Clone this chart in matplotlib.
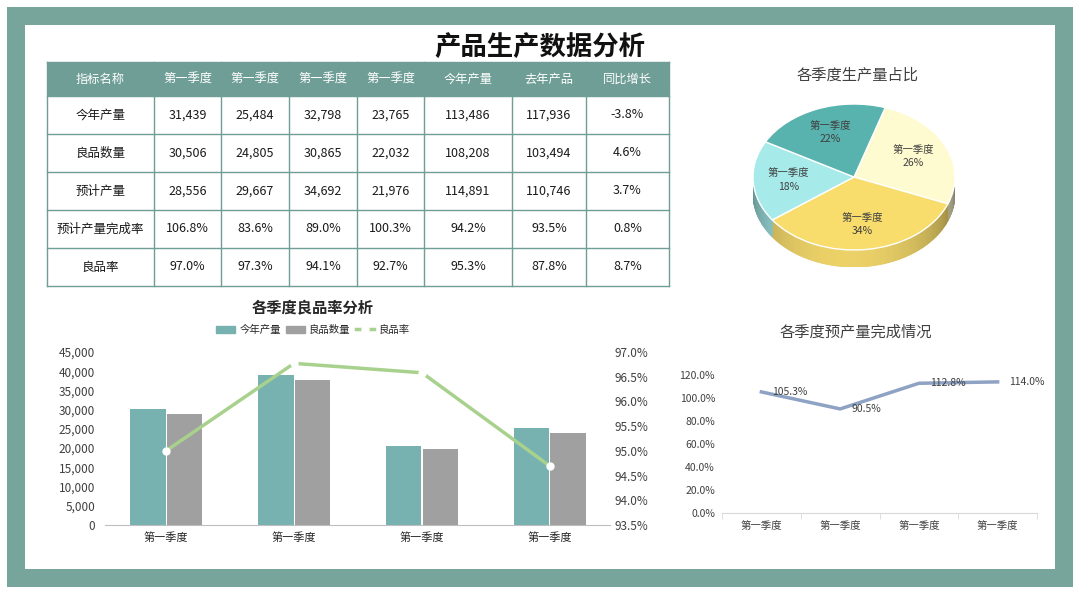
import matplotlib

matplotlib.use("Agg")
import matplotlib.pyplot as plt
import numpy as np
from matplotlib.colors import to_rgb
from matplotlib.lines import Line2D
from matplotlib.patches import Patch, Polygon, Rectangle, Wedge
from matplotlib.ticker import FuncFormatter, MultipleLocator

plt.rcParams["font.family"] = ["Noto Sans CJK SC", "DejaVu Sans"]

W, H = 1080, 594

# ---- data -----------------------------------------------------------------
main_title = "产品生产数据分析"
col_headers = ["指标名称", "第一季度", "第一季度", "第一季度", "第一季度",
               "今年产量", "去年产品", "同比增长"]
row_names = ["今年产量", "良品数量", "预计产量", "预计产量完成率", "良品率"]
output_this_year = [31439, 25484, 32798, 23765, 113486, 117936]
good_count = [30506, 24805, 30865, 22032, 108208, 103494]
planned_output = [28556, 29667, 34692, 21976, 114891, 110746]
plan_completion = [106.8, 83.6, 89.0, 100.3, 94.2, 93.5]
good_rate = [97.0, 97.3, 94.1, 92.7, 95.3, 87.8]
yoy_growth = [-3.8, 4.6, 3.7, 0.8, 8.7]

pie_title = "各季度生产量占比"
pie_names = ["第一季度", "第一季度", "第一季度", "第一季度"]
pie_share = [26, 34, 18, 22]

bar_title = "各季度良品率分析"
quarters = ["第一季度", "第一季度", "第一季度", "第一季度"]
bar_output = [30300, 38950, 20450, 25350]
bar_good = [28900, 37650, 19850, 23950]
bar_rate = [95.0, 96.77, 96.58, 94.69]
bar_legend = ["今年产量", "良品数量", "良品率"]

line_title = "各季度预产量完成情况"
completion = [105.3, 90.5, 112.8, 114.0]

# ---- colours --------------------------------------------------------------
FRAME = "#77a59c"
HEAD = "#6f9e97"
TEAL = "#77b2b1"
GRAY = "#a0a0a0"
GREEN = "#a9d18e"
STEEL = "#8ea2c4"
TXT = "#404040"
PIE_COLORS = ["#fffbd0", "#f8dc6c", "#a6eaea", "#58b2ae"]


def rect(x0, y0, x1, y1):
    """pixel box (top-left origin) -> figure fraction"""
    return [x0 / W, 1 - y1 / H, (x1 - x0) / W, (y1 - y0) / H]


fig = plt.figure(figsize=(W / 100, H / 100), dpi=100)
bg = fig.add_axes([0, 0, 1, 1])
bg.set_xlim(0, W)
bg.set_ylim(H, 0)
bg.axis("off")
bg.add_patch(Rectangle((7, 7), 1066, 580, color=FRAME, lw=0))
bg.add_patch(Rectangle((25, 25), 1030, 544, color="white", lw=0))
bg.text(540, 47, main_title, ha="center", va="center", fontsize=19,
        fontweight="bold", color="#111111")

# ---- table ----------------------------------------------------------------
col_x = [47, 154, 221, 289, 357, 424, 512, 586, 669]
row_y = [62, 96, 134, 172, 210, 248, 286]


def fmt_row(i):
    if i < 3:
        vals = [output_this_year, good_count, planned_output][i]
        cells = [f"{v:,}" for v in vals]
    else:
        vals = [plan_completion, good_rate][i - 3]
        cells = [f"{v:.1f}%" for v in vals]
    return cells + [f"{yoy_growth[i]:.1f}%"]


bg.add_patch(Rectangle((col_x[0], row_y[0]), col_x[-1] - col_x[0],
                       row_y[1] - row_y[0], color=HEAD, lw=0))
for c, name in enumerate(col_headers):
    bg.text((col_x[c] + col_x[c + 1]) / 2, (row_y[0] + row_y[1]) / 2, name,
            ha="center", va="center", fontsize=8.8, color="white")
for r, name in enumerate(row_names):
    yc = (row_y[r + 1] + row_y[r + 2]) / 2
    cells = [name] + fmt_row(r)
    for c, s in enumerate(cells):
        bg.text((col_x[c] + col_x[c + 1]) / 2, yc, s, ha="center",
                va="center", fontsize=9, color="#1a1a1a")
for y in row_y:
    bg.plot([col_x[0], col_x[-1]], [y, y], color=HEAD, lw=1)
for x in col_x:
    bg.plot([x, x], [row_y[0], row_y[-1]], color=HEAD, lw=1)

# ---- 3d-ish pie -----------------------------------------------------------
bg.text(858, 75, pie_title, ha="center", va="center", fontsize=11,
        color=TXT)
depth = 17 / 73
axp = fig.add_axes(rect(753, 104, 955, 267))
axp.set_xlim(-1, 1)
axp.set_ylim(-1 - depth, 1)
axp.axis("off")

fracs = np.array(pie_share) / sum(pie_share)
start = 72.0
edges = start - np.concatenate([[0], np.cumsum(fracs)]) * 360
for i, col in enumerate(PIE_COLORS):
    t2, t1 = edges[i], edges[i + 1]
    base = np.array(to_rgb(col))
    # side wall: only the part facing the viewer (180..360 deg)
    for k in (-720, -360, 0, 360):
        a0, a1 = max(t1 + k, 180), min(t2 + k, 360)
        if a1 <= a0:
            continue
        angs = np.linspace(a0, a1, max(2, int(a1 - a0) + 1))
        for p, q in zip(angs[:-1], angs[1:]):
            m = np.radians((p + q) / 2)
            shade = 0.55 + 0.4 * np.cos(m - np.radians(265))
            c = np.clip(base * shade, 0, 1)
            pr, qr = np.radians(p), np.radians(q)
            pts = [(np.cos(pr), np.sin(pr)), (np.cos(qr), np.sin(qr)),
                   (np.cos(qr), np.sin(qr) - depth),
                   (np.cos(pr), np.sin(pr) - depth)]
            axp.add_patch(Polygon(pts, closed=True, fc=c, ec=c, lw=0.6))
for i, col in enumerate(PIE_COLORS):
    t2, t1 = edges[i], edges[i + 1]
    axp.add_patch(Wedge((0, 0), 1, t1, t2, fc=col, ec="white", lw=1))
    mid = np.radians((t1 + t2) / 2)
    lx, ly = 0.65 * np.cos(mid), 0.65 * np.sin(mid)
    axp.text(lx, ly + 0.09, pie_names[i], ha="center", va="center",
             fontsize=7.5, color=TXT)
    axp.text(lx, ly - 0.09, f"{pie_share[i]}%", ha="center", va="center",
             fontsize=7.5, color=TXT)

# ---- bar + line combo -----------------------------------------------------
bg.text(313, 307, bar_title, ha="center", va="center", fontsize=11,
        fontweight="bold", color="#262626")
axb = fig.add_axes(rect(105, 352, 610, 525))
x = np.arange(len(quarters))
bw = 0.277
axb.bar(x - bw / 2 - 0.004, bar_output, bw, color=TEAL, zorder=2)
axb.bar(x + bw / 2 + 0.004, bar_good, bw, color=GRAY, zorder=2)
axb.set_xlim(-0.477, 3.469)
axb.set_ylim(0, 45000)
axb.yaxis.set_major_locator(MultipleLocator(5000))
axb.yaxis.set_major_formatter(FuncFormatter(lambda v, _: f"{v:,.0f}"))
axb.set_xticks(x)
axb.set_xticklabels(quarters)
for s in ("top", "right", "left"):
    axb.spines[s].set_visible(False)
axb.spines["bottom"].set_color("#bfbfbf")
axb.tick_params(axis="y", length=0, pad=7, labelsize=8.5, labelcolor=TXT)
axb.tick_params(axis="x", length=0, pad=5, labelsize=8, labelcolor="#262626")

axr = axb.twinx()
axr.plot(x, bar_rate, color=GREEN, lw=2.5, marker="o", ms=5,
         mfc="white", mec="white", zorder=3)
axr.set_ylim(93.5, 97.0)
axr.yaxis.set_major_locator(MultipleLocator(0.5))
axr.yaxis.set_major_formatter(FuncFormatter(lambda v, _: f"{v:.1f}%"))
for s in axr.spines.values():
    s.set_visible(False)
axr.tick_params(axis="y", length=0, pad=3, labelsize=8.5, labelcolor=TXT)

handles = [Patch(color=TEAL), Patch(color=GRAY),
           Line2D([], [], color=GREEN, lw=2.5, marker="o", ms=5,
                  mfc="white", mec="white")]
fig.legend(handles, bar_legend, loc="center",
           bbox_to_anchor=(313 / W, 1 - 330 / H), ncol=3, frameon=False,
           fontsize=7.5, handlelength=1.8, handleheight=0.7,
           handletextpad=0.4, columnspacing=0.5, labelcolor="#262626")

# ---- completion line ------------------------------------------------------
bg.text(856, 332, line_title, ha="center", va="center", fontsize=11,
        color=TXT)
axl = fig.add_axes(rect(722, 375, 1037, 513))
xl = np.arange(len(completion))
axl.plot(xl, completion, color=STEEL, lw=2.5)
for xi, v in zip(xl, completion):
    axl.annotate(f"{v:.1f}%", (xi, v), xytext=(8, 0),
                 textcoords="offset points", ha="left", va="center",
                 fontsize=7.5, color=TXT)
axl.set_xlim(-0.5, len(completion) - 0.5)
axl.set_ylim(0, 120)
axl.yaxis.set_major_locator(MultipleLocator(20))
axl.yaxis.set_major_formatter(FuncFormatter(lambda v, _: f"{v:.1f}%"))
axl.set_xticks(xl)
axl.set_xticklabels(quarters)
axl.set_xticks(np.arange(-0.5, len(completion)), minor=True)
for s in ("top", "right", "left"):
    axl.spines[s].set_visible(False)
axl.spines["bottom"].set_color("#d9d9d9")
axl.tick_params(axis="y", length=0, pad=5, labelsize=7.5, labelcolor=TXT)
axl.tick_params(axis="x", which="major", length=0, pad=6, labelsize=7.5,
                labelcolor=TXT)
axl.tick_params(axis="x", which="minor", length=4, color="#d9d9d9")

fig.savefig("out.png", dpi=100)
